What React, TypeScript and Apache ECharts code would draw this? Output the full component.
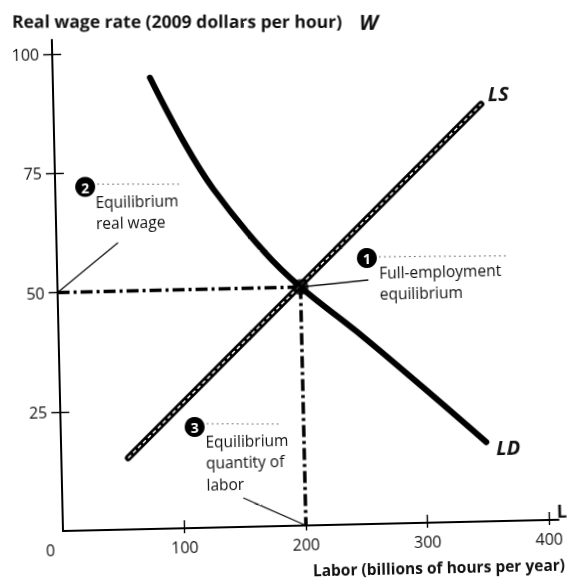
import React, { useEffect, useRef } from "react";
import * as echarts from "echarts";

// ---- data ----
const xTickValues = [100, 200, 300, 400];
const yTickValues = [25, 50, 75, 100];
const ldPoints = [
  [80, 94.6],
  [106, 81.3],
  [130, 71],
  [170, 57.8],
  [200, 50],
  [245, 40.5],
  [298, 28.6],
  [350, 16.6],
];
const lsPoints = [
  [55, 15],
  [352, 87.5],
];
const equilibrium = [200, 50];
const titleText = "Real wage rate (2009 dollars per hour)";
const xNameText = "Labor (billions of hours per year)";
const note1Lines = ["Full-employment", "equilibrium"];
const note2Lines = ["Equilibrium", "real wage"];
const note3Lines = ["Equilibrium", "quantity of", "labor"];

const FONT = "'Open Sans', 'DejaVu Sans', sans-serif";
const TILT = 0.0227; // scan tilt in radians (~1.3 deg)

function txt(x: number, y: number, text: string, opts: any = {}) {
  return {
    type: "text",
    x,
    y,
    rotation: opts.rotation || 0,
    silent: true,
    style: {
      text,
      fill: opts.fill || "#111",
      fontSize: opts.fontSize || 14,
      fontFamily: FONT,
      fontWeight: opts.fontWeight || "normal",
      fontStyle: opts.fontStyle || "normal",
      align: opts.align || "left",
      verticalAlign: "middle",
      textAlign: opts.align || "left",
      textVerticalAlign: "middle",
    },
  };
}

function badge(cx: number, cy: number, n: string) {
  return [
    { type: "circle", silent: true, shape: { cx, cy, r: 10 }, style: { fill: "#000" } },
    txt(cx, cy + 0.5, n, { fill: "#fff", fontSize: 14, fontWeight: "bold", align: "center" }),
  ];
}

function leader(x1: number, y1: number, x2: number, y2: number) {
  return {
    type: "line",
    silent: true,
    shape: { x1, y1, x2, y2 },
    style: { stroke: "#777", lineWidth: 1, lineDash: [2, 3] },
  };
}

function pointer(x1: number, y1: number, x2: number, y2: number) {
  return {
    type: "line",
    silent: true,
    shape: { x1, y1, x2, y2 },
    style: { stroke: "#111", lineWidth: 1.3 },
  };
}

export default function App() {
  const ref = useRef<HTMLDivElement>(null);

  useEffect(() => {
    if (!ref.current) return;
    const chart = echarts.init(ref.current, undefined, { renderer: "svg" });
    const dashType: any = [12, 4, 3, 4];

    const baseX = {
      type: "value",
      min: 0,
      max: 408,
      interval: 100,
      splitLine: { show: false },
    };
    const baseY = {
      type: "value",
      min: 0,
      max: 103,
      interval: 25,
      splitLine: { show: false },
    };

    const noteSize = 15.5;

    const option: any = {
      animation: false,
      backgroundColor: "transparent",
      grid: { left: 63, right: 8.3, top: 39.7, bottom: 69, containLabel: false },
      xAxis: [
        {
          ...baseX,
          position: "bottom",
          axisLine: { show: true, lineStyle: { color: "#000", width: 2 } },
          axisTick: {
            show: true,
            customValues: xTickValues,
            length: 5,
            inside: false,
            lineStyle: { color: "#000", width: 1.4 },
          },
          axisLabel: {
            show: true,
            customValues: xTickValues,
            margin: 11,
            fontSize: 16,
            fontFamily: FONT,
            color: "#111",
            formatter: (v: number) => (xTickValues.includes(v) ? String(v) : ""),
          },
        },
        {
          ...baseX,
          position: "bottom",
          offset: 0,
          axisLine: { show: false },
          axisTick: {
            show: true,
            customValues: xTickValues,
            length: 8,
            inside: true,
            lineStyle: { color: "#000", width: 1.4 },
          },
          axisLabel: { show: false },
        },
      ],
      yAxis: [
        {
          ...baseY,
          position: "left",
          axisLine: { show: true, lineStyle: { color: "#000", width: 2 } },
          axisTick: {
            show: true,
            customValues: yTickValues,
            length: 9,
            inside: false,
            lineStyle: { color: "#000", width: 1.4 },
          },
          axisLabel: {
            show: true,
            customValues: yTickValues,
            margin: 13,
            fontSize: 16,
            fontFamily: FONT,
            color: "#111",
            formatter: (v: number) => (yTickValues.includes(v) ? String(v) : ""),
          },
        },
        {
          ...baseY,
          position: "left",
          offset: 0,
          axisLine: { show: false },
          axisTick: {
            show: true,
            customValues: yTickValues,
            length: 9,
            inside: true,
            lineStyle: { color: "#000", width: 1.4 },
          },
          axisLabel: { show: false },
        },
      ],
      series: [
        {
          type: "line",
          silent: true,
          symbol: "none",
          data: [
            [0, equilibrium[1]],
            [equilibrium[0], equilibrium[1]],
          ],
          lineStyle: { color: "#000", width: 3.5, type: dashType },
          z: 2,
        },
        {
          type: "line",
          silent: true,
          symbol: "none",
          data: [
            [equilibrium[0], equilibrium[1]],
            [equilibrium[0], 0],
          ],
          lineStyle: { color: "#000", width: 3.5, type: dashType },
          z: 2,
        },
        {
          type: "line",
          silent: true,
          symbol: "none",
          smooth: 0.4,
          data: ldPoints,
          lineStyle: { color: "#000", width: 6, cap: "round" },
          z: 3,
        },
        {
          type: "line",
          silent: true,
          symbol: "none",
          data: lsPoints,
          lineStyle: { color: "#000", width: 6.5, cap: "round" },
          z: 3,
        },
        {
          type: "line",
          silent: true,
          symbol: "none",
          data: lsPoints,
          lineStyle: { color: "#fff", width: 1.4, type: [4, 3] as any },
          z: 4,
        },
        {
          type: "scatter",
          silent: true,
          symbol: "circle",
          symbolSize: 16,
          data: [equilibrium],
          itemStyle: { color: "#000" },
          z: 5,
        },
      ],
      graphic: [
        txt(23.6, 19.8, titleText, { fontSize: 17.5, fontWeight: "bold", rotation: -TILT }),
        txt(380, 29, "W", { fontSize: 21, fontWeight: "bold", fontStyle: "italic", align: "center", rotation: -TILT }),
        txt(438, 575.5, xNameText, { fontSize: 15.5, fontWeight: "bold", align: "center" }),
        txt(50, 550, "0", { fontSize: 16, align: "center" }),
        txt(562, 522, "L", { fontSize: 18, fontWeight: "bold", align: "center" }),
        txt(508, 103, "LS", { fontSize: 20, fontWeight: "bold", fontStyle: "italic", align: "center" }),
        txt(510, 457, "LD", { fontSize: 20, fontWeight: "bold", fontStyle: "italic", align: "center" }),
        // note 1
        ...badge(373, 265, "1"),
        leader(385, 264, 514, 266),
        pointer(306, 292.5, 374, 287),
        txt(385, 280, note1Lines[0], { fontSize: noteSize }),
        txt(385, 301, note1Lines[1], { fontSize: noteSize }),
        // note 2
        ...badge(93, 187.5, "2"),
        leader(105, 185, 190, 187),
        pointer(124.5, 244, 63, 292.5),
        txt(103, 203, note2Lines[0], { fontSize: noteSize }),
        txt(103, 224, note2Lines[1], { fontSize: noteSize }),
        // note 3
        ...badge(197, 430, "3"),
        leader(209, 427, 282, 429),
        pointer(244, 502, 306, 531),
        txt(207.5, 445, note3Lines[0], { fontSize: noteSize }),
        txt(207.5, 466, note3Lines[1], { fontSize: noteSize }),
        txt(207.5, 488, note3Lines[2], { fontSize: noteSize }),
      ],
    };

    chart.setOption(option);
    return () => chart.dispose();
  }, []);

  return (
    <div
      ref={ref}
      style={{
        position: "fixed",
        left: 0,
        top: 0,
        width: 567,
        height: 600,
        transform: "rotate(-1.3deg)",
        transformOrigin: "63px 531px",
      }}
    />
  );
}
